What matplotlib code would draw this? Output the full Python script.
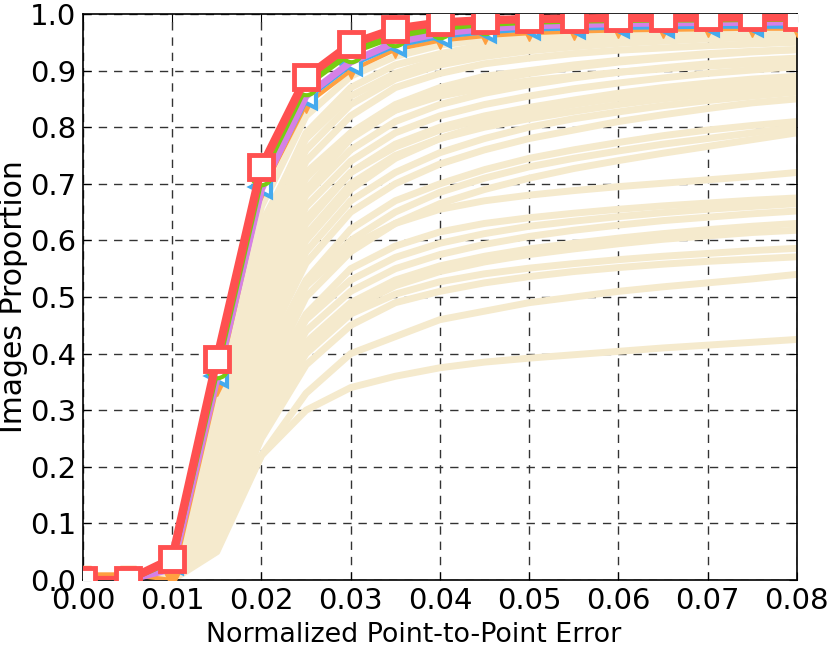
import numpy as np
import matplotlib
matplotlib.use('Agg')
import matplotlib.pyplot as plt

# Trục x: sai số chuẩn hoá
x_err = [0.0, 0.005, 0.01, 0.015, 0.02, 0.025, 0.03, 0.035, 0.04,
         0.045, 0.05, 0.055, 0.06, 0.065, 0.07, 0.075, 0.08]

# Các đường nền (màu be)
bg_curves = [
    [0, 0, 0.03, 0.33, 0.66, 0.82, 0.89, 0.925, 0.945, 0.955, 0.962, 0.967, 0.971, 0.974, 0.976, 0.978, 0.98],
    [0, 0, 0.02, 0.30, 0.62, 0.79, 0.87, 0.91, 0.93, 0.945, 0.955, 0.96, 0.965, 0.968, 0.97, 0.972, 0.974],
    [0, 0, 0.02, 0.28, 0.60, 0.76, 0.84, 0.885, 0.91, 0.925, 0.935, 0.942, 0.948, 0.952, 0.956, 0.958, 0.96],
    [0, 0, 0.01, 0.25, 0.57, 0.74, 0.82, 0.87, 0.895, 0.912, 0.922, 0.93, 0.936, 0.94, 0.944, 0.947, 0.95],
    [0, 0, 0.01, 0.24, 0.55, 0.71, 0.79, 0.84, 0.87, 0.89, 0.90, 0.91, 0.918, 0.924, 0.93, 0.934, 0.937],
    [0, 0, 0.01, 0.22, 0.52, 0.68, 0.76, 0.81, 0.84, 0.86, 0.875, 0.887, 0.897, 0.905, 0.912, 0.918, 0.922],
    [0, 0, 0.01, 0.20, 0.50, 0.66, 0.74, 0.79, 0.82, 0.84, 0.855, 0.868, 0.878, 0.887, 0.895, 0.901, 0.907],
    [0, 0, 0.0, 0.18, 0.47, 0.63, 0.72, 0.77, 0.80, 0.82, 0.835, 0.848, 0.86, 0.87, 0.878, 0.885, 0.89],
    [0, 0, 0.0, 0.17, 0.45, 0.61, 0.70, 0.75, 0.78, 0.80, 0.815, 0.828, 0.84, 0.85, 0.858, 0.865, 0.872],
    [0, 0, 0.0, 0.15, 0.42, 0.58, 0.67, 0.72, 0.755, 0.78, 0.80, 0.815, 0.827, 0.838, 0.847, 0.855, 0.862],
    [0, 0, 0.0, 0.14, 0.40, 0.56, 0.65, 0.70, 0.735, 0.76, 0.78, 0.795, 0.81, 0.822, 0.833, 0.843, 0.85],
    [0, 0, 0.0, 0.13, 0.38, 0.53, 0.62, 0.67, 0.70, 0.725, 0.745, 0.76, 0.773, 0.785, 0.795, 0.803, 0.81],
    [0, 0, 0.0, 0.12, 0.36, 0.52, 0.60, 0.65, 0.685, 0.71, 0.73, 0.745, 0.758, 0.77, 0.78, 0.79, 0.80],
    [0, 0, 0.0, 0.11, 0.34, 0.50, 0.58, 0.63, 0.665, 0.69, 0.71, 0.727, 0.741, 0.754, 0.766, 0.778, 0.79],
    [0, 0, 0.0, 0.12, 0.37, 0.52, 0.59, 0.63, 0.655, 0.67, 0.68, 0.688, 0.695, 0.701, 0.707, 0.713, 0.72],
    [0, 0, 0.0, 0.10, 0.33, 0.47, 0.55, 0.59, 0.615, 0.63, 0.64, 0.648, 0.655, 0.661, 0.666, 0.671, 0.675],
    [0, 0, 0.0, 0.10, 0.32, 0.46, 0.53, 0.57, 0.595, 0.612, 0.625, 0.634, 0.642, 0.649, 0.655, 0.66, 0.665],
    [0, 0, 0.0, 0.09, 0.30, 0.44, 0.51, 0.55, 0.575, 0.593, 0.607, 0.618, 0.627, 0.635, 0.641, 0.647, 0.652],
    [0, 0, 0.0, 0.09, 0.29, 0.42, 0.49, 0.53, 0.555, 0.572, 0.585, 0.595, 0.604, 0.612, 0.619, 0.625, 0.63],
    [0, 0, 0.0, 0.08, 0.28, 0.41, 0.48, 0.52, 0.545, 0.562, 0.575, 0.585, 0.594, 0.602, 0.608, 0.614, 0.618],
    [0, 0, 0.0, 0.08, 0.27, 0.40, 0.47, 0.505, 0.527, 0.541, 0.551, 0.559, 0.566, 0.572, 0.577, 0.582, 0.586],
    [0, 0, 0.0, 0.07, 0.25, 0.38, 0.45, 0.49, 0.51, 0.525, 0.536, 0.545, 0.552, 0.558, 0.563, 0.567, 0.571],
    [0, 0, 0.0, 0.06, 0.22, 0.33, 0.40, 0.43, 0.46, 0.475, 0.49, 0.50, 0.51, 0.518, 0.525, 0.532, 0.54],
    [0, 0, 0.0, 0.05, 0.22, 0.30, 0.34, 0.36, 0.375, 0.385, 0.392, 0.398, 0.404, 0.41, 0.415, 0.42, 0.425],
    [0, 0, 0.02, 0.27, 0.58, 0.72, 0.79, 0.83, 0.855, 0.87, 0.882, 0.89, 0.897, 0.903, 0.908, 0.912, 0.915],
    [0, 0, 0.01, 0.21, 0.49, 0.64, 0.72, 0.765, 0.795, 0.815, 0.83, 0.842, 0.852, 0.86, 0.867, 0.873, 0.878],
    [0, 0, 0.0, 0.16, 0.44, 0.60, 0.69, 0.745, 0.78, 0.805, 0.825, 0.84, 0.852, 0.862, 0.87, 0.877, 0.883],
    [0, 0, 0.01, 0.23, 0.53, 0.69, 0.78, 0.83, 0.86, 0.88, 0.895, 0.906, 0.915, 0.922, 0.928, 0.933, 0.937],
    [0, 0, 0.03, 0.31, 0.63, 0.78, 0.855, 0.895, 0.92, 0.935, 0.945, 0.952, 0.957, 0.961, 0.965, 0.968, 0.97],
]

# Các đường nổi bật
orange_y = [0.01, 0.01, 0.0, 0.34, 0.685, 0.84, 0.9, 0.937, 0.953, 0.961, 0.966, 0.969, 0.971, 0.972, 0.973, 0.974, 0.974]
blue_y = [0, 0, 0.03, 0.36, 0.695, 0.852, 0.912, 0.946, 0.962, 0.97, 0.975, 0.977, 0.978, 0.979, 0.98, 0.98, 0.98]
purple_y = [0, 0, 0.02, 0.355, 0.69, 0.855, 0.915, 0.95, 0.966, 0.974, 0.979, 0.981, 0.983, 0.984, 0.985, 0.985, 0.986]
green_y = [0, 0, 0.035, 0.375, 0.715, 0.875, 0.933, 0.962, 0.976, 0.983, 0.987, 0.989, 0.99, 0.991, 0.991, 0.992, 0.992]
red_y = [0, 0, 0.038, 0.39, 0.73, 0.888, 0.947, 0.974, 0.985, 0.989, 0.991, 0.992, 0.993, 0.993, 0.994, 0.994, 0.994]

plt.rcParams['font.family'] = 'DejaVu Sans'
fig = plt.figure(figsize=(8.3, 6.51), dpi=100)
ax = fig.add_axes([0.1, 0.109, 0.86, 0.8695])

for yy in bg_curves:
    ax.plot(x_err, yy, color='#F5EACD', lw=5, zorder=2)

ax.plot(x_err, orange_y, color='#FFA040', lw=3, marker='v', ms=12,
        mfc='#FFA040', mec='#FFA040', zorder=3)
ax.plot(x_err, blue_y, color='#44AAEE', lw=5, marker='<', ms=14,
        mfc='white', mec='#44AAEE', mew=3, zorder=3.1)
ax.plot(x_err, purple_y, color='#D580E6', lw=5, zorder=3.3)
ax.plot(x_err, green_y, color='#77CC11', lw=5, marker='o', ms=14,
        mfc='white', mec='#77CC11', mew=3, zorder=3.6)
ax.plot(x_err, red_y, color='#FF5050', lw=6, marker='s', ms=17,
        mfc='white', mec='#FF5050', mew=3.5, zorder=4)

ax.set_xlim(0, 0.08)
ax.set_ylim(0, 1.0)
ax.set_xticks(np.arange(0, 0.0801, 0.01))
ax.set_yticks(np.arange(0, 1.001, 0.1))
ax.set_xticklabels(['%.2f' % v for v in np.arange(0, 0.0801, 0.01)])
ax.set_yticklabels(['%.1f' % v for v in np.arange(0, 1.001, 0.1)])
ax.tick_params(direction='in', top=True, right=True, labelsize=21, length=6, pad=5)
ax.grid(True, color='0.2', linestyle=(0, (6, 5)), lw=1)
ax.set_axisbelow(True)
for s in ax.spines.values():
    s.set_linewidth(1.2)

ax.set_xlabel('Normalized Point-to-Point Error', fontsize=19.4)
ax.xaxis.set_label_coords(0.4636, -0.074)
ax.set_ylabel('Images Proportion', fontsize=21.5)
ax.yaxis.set_label_coords(-0.077, 0.5)

fig.savefig('out.png', dpi=100, facecolor='white')
